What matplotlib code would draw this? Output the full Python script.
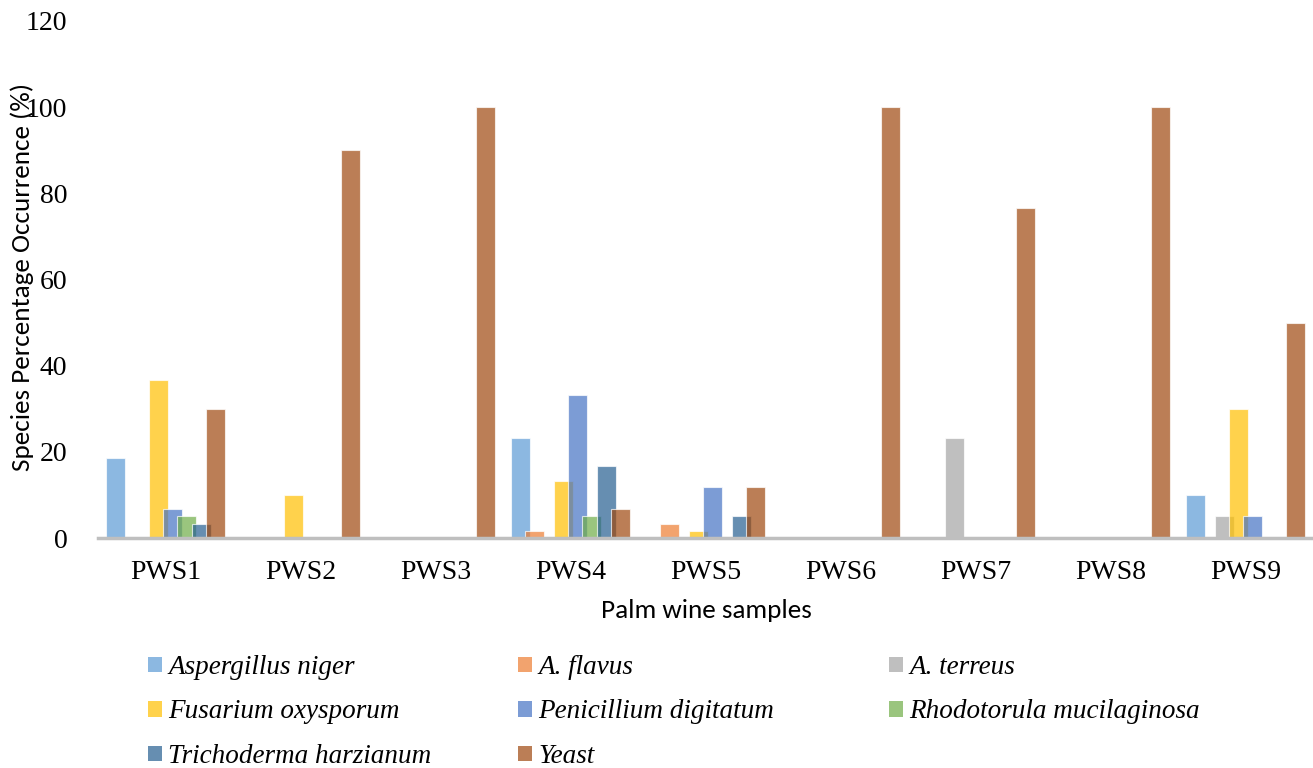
import numpy as np
import matplotlib
matplotlib.use("Agg")
import matplotlib.pyplot as plt
from matplotlib.patches import Patch
from matplotlib.font_manager import FontProperties

samples = ["PWS1", "PWS2", "PWS3", "PWS4", "PWS5", "PWS6", "PWS7", "PWS8", "PWS9"]
species = ["Aspergillus niger", "A. flavus", "A. terreus", "Fusarium oxysporum",
           "Penicillium digitatum", "Rhodotorula mucilaginosa",
           "Trichoderma harzianum", "Yeast"]
aspergillus_niger = [18.5, 0, 0, 23.3, 0, 0, 0, 0, 10]
a_flavus = [0, 0, 0, 1.7, 3.3, 0, 0, 0, 0]
a_terreus = [0, 0, 0, 0, 0, 0, 23.3, 0, 5]
fusarium_oxysporum = [36.7, 10, 0, 13.3, 1.7, 0, 0, 0, 30]
penicillium_digitatum = [6.7, 0, 0, 33.3, 11.8, 0, 0, 0, 5]
rhodotorula_mucilaginosa = [5, 0, 0, 5, 0, 0, 0, 0, 0]
trichoderma_harzianum = [3.3, 0, 0, 16.7, 5, 0, 0, 0, 0]
yeast = [30, 90, 100, 6.7, 11.8, 100, 76.7, 100, 50]
series = [aspergillus_niger, a_flavus, a_terreus, fusarium_oxysporum,
          penicillium_digitatum, rhodotorula_mucilaginosa,
          trichoderma_harzianum, yeast]
colors = ["#5B9BD5", "#ED7D31", "#A5A5A5", "#FFC000", "#4472C4", "#70AD47",
          "#255E91", "#9E480E"]
alpha = 0.7

fig = plt.figure(figsize=(13.13, 7.68), dpi=100)
ax = fig.add_axes([98/1313, 1-538/768, 1-98/1313, (538-21)/768])

x = np.arange(len(samples))
step = 0.106
width = 0.1407
for i, (vals, c) in enumerate(zip(series, colors)):
    ax.bar(x + (i - 3.5) * step, vals, width=width, color=c, alpha=alpha,
           edgecolor=(1, 1, 1, 0.5), linewidth=0.8, zorder=2)

ax.set_xlim(-0.5, len(samples) - 0.5)
ax.set_ylim(0, 120)
ax.set_yticks([0, 20, 40, 60, 80, 100, 120])
ax.set_xticks(x)
ax.set_xticklabels(samples)
tick_font = FontProperties(family="Liberation Serif", size=20)
for lab in ax.get_xticklabels() + ax.get_yticklabels():
    lab.set_fontproperties(tick_font)
ax.tick_params(axis="both", length=0)
ax.tick_params(axis="y", pad=22)
ax.tick_params(axis="x", pad=16)
for s in ["top", "right", "left"]:
    ax.spines[s].set_visible(False)
ax.spines["bottom"].set_color("#BFBFBF")
ax.spines["bottom"].set_linewidth(2.5)
ax.spines["bottom"].set_zorder(3)

label_font = FontProperties(family="Carlito", size=19.5)
fig.text(22/1313, 1-277/768, "Species Percentage Occurrence (%)", rotation=90,
         ha="center", va="center", fontproperties=label_font)
fig.text(706/1313, 1-611/768, "Palm wine samples", ha="center", va="center",
         fontproperties=label_font)

# legend: three columns laid out manually
legend_font = FontProperties(family="Liberation Serif", style="italic", size=19.5)
cols = [[0, 3, 6], [1, 4, 7], [2, 5]]
col_x = [148/1313, 518/1313, 889/1313]
for cx, idxs in zip(col_x, cols):
    handles = [Patch(facecolor=colors[j], alpha=alpha, edgecolor="none") for j in idxs]
    labels = [species[j] for j in idxs]
    fig.legend(handles, labels, loc="upper left", bbox_to_anchor=(cx, 1-655/768),
               frameon=False, prop=legend_font,
               handlelength=0.5, handleheight=0.5, handletextpad=0.25,
               labelspacing=0.72, borderaxespad=0, borderpad=0)

fig.savefig("out.png", dpi=100)
